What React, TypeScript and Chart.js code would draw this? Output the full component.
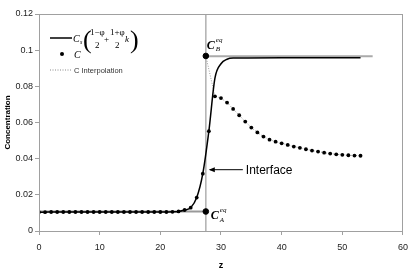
import React, { useEffect, useRef } from "react";
import { Chart, registerables } from "chart.js";
Chart.register(...registerables);

// ---- data ----
const cZ = [
  0, 1, 2, 3, 4, 5, 6, 7, 8, 9, 10, 11, 12, 13, 14, 15, 16, 17, 18, 19, 20, 21, 22, 23, 24, 25, 26, 27, 28,
  29, 30, 31, 32, 33, 34, 35, 36, 37, 38, 39, 40, 41, 42, 43, 44, 45, 46, 47, 48, 49, 50, 51, 52, 53,
];
const cValues = [
  0.0104, 0.0104, 0.0105, 0.0105, 0.0105, 0.0105, 0.0105, 0.0105, 0.0105, 0.0105, 0.0105, 0.0105, 0.0105,
  0.0105, 0.0105, 0.0105, 0.0105, 0.0105, 0.0105, 0.0105, 0.0105, 0.0105, 0.0106, 0.0108, 0.0116, 0.0129,
  0.0185, 0.0317, 0.0552,
  0.0745, 0.0735, 0.071, 0.0675, 0.064, 0.0605, 0.0572, 0.0545, 0.0522, 0.0505, 0.0494, 0.0485, 0.0476,
  0.0467, 0.046, 0.0452, 0.0445, 0.0439, 0.0433, 0.0428, 0.0424, 0.0421, 0.0419, 0.0417, 0.0416,
];
const solidZ = [
  0, 1, 2, 3, 4, 5, 6, 7, 8, 9, 10, 11, 12, 13, 14, 15, 16, 17, 18, 19, 20, 21, 22, 23, 24, 25, 26, 27, 28,
  29, 30, 31, 32, 40, 53,
];
const solidValues = [
  0.0104, 0.0104, 0.0105, 0.0105, 0.0105, 0.0105, 0.0105, 0.0105, 0.0105, 0.0105, 0.0105, 0.0105, 0.0105,
  0.0105, 0.0105, 0.0105, 0.0105, 0.0105, 0.0105, 0.0105, 0.0105, 0.0105, 0.0106, 0.0108, 0.0116, 0.0129,
  0.0185, 0.0317, 0.0552,
  0.0845, 0.0925, 0.095, 0.0956, 0.0958, 0.0958,
];
const interpZ = [27.5, 29, 30, 31, 32, 33, 34, 35, 36, 37, 38, 39, 40, 41, 42, 43, 44, 45, 46, 47, 48, 49, 50, 51, 52, 53];
const interpValues = [
  0.0968, 0.0745, 0.0735, 0.071, 0.0675, 0.064, 0.0605, 0.0572, 0.0545, 0.0522, 0.0505, 0.0494, 0.0485, 0.0476,
  0.0467, 0.046, 0.0452, 0.0445, 0.0439, 0.0433, 0.0428, 0.0424, 0.0421, 0.0419, 0.0417, 0.0416,
];
const interfaceZ = 27.5;
const cAeq = 0.0108;
const cBeq = 0.0966;
const cBeqDot = 0.0968;
const cBeqLineEnd = 55;
const xTicks = [0, 10, 20, 30, 40, 50, 60];
const yTicks = [0, 0.02, 0.04, 0.06, 0.08, 0.1, 0.12];

const pts = (xs: number[], ys: number[]) => xs.map((x, i) => ({ x, y: ys[i] }));

const SANS = '"Liberation Sans", Arial, sans-serif';
const SERIF = '"Liberation Serif", "Times New Roman", serif';

const overlay = {
  id: "overlay",
  afterDraw(chart: any) {
    const ctx = chart.ctx as CanvasRenderingContext2D;
    const ca = chart.chartArea;
    const xs = chart.scales.x;
    const ys = chart.scales.y;
    ctx.save();
    // frame
    ctx.strokeStyle = "#a0a0a0";
    ctx.lineWidth = 1;
    ctx.strokeRect(Math.round(ca.left) + 0.5, Math.round(ca.top) + 0.5, Math.round(ca.width) - 1, Math.round(ca.height));

    ctx.fillStyle = "#000";
    ctx.textAlign = "left";
    ctx.textBaseline = "alphabetic";
    const ix = xs.getPixelForValue(interfaceZ);

    // C_B^eq label
    const by = ys.getPixelForValue(cBeq);
    ctx.font = `italic bold 12px ${SERIF}`;
    ctx.fillText("C", ix + 1, by - 7);
    ctx.font = `italic 7px ${SERIF}`;
    ctx.fillText("eq", ix + 10, by - 14);
    ctx.fillText("B", ix + 10, by - 5);

    // C_A^eq label
    const ay = ys.getPixelForValue(cAeq);
    ctx.font = `italic bold 12px ${SERIF}`;
    ctx.fillText("C", ix + 5, ay + 8);
    ctx.font = `italic 7px ${SERIF}`;
    ctx.fillText("eq", ix + 14, ay + 1);
    ctx.fillText("A", ix + 14, ay + 11);

    // Interface arrow + label
    const arrowY = ys.getPixelForValue(0.0339);
    ctx.strokeStyle = "#000";
    ctx.lineWidth = 1;
    ctx.beginPath();
    ctx.moveTo(ix + 4, arrowY);
    ctx.lineTo(ix + 37, arrowY);
    ctx.stroke();
    ctx.beginPath();
    ctx.moveTo(ix + 3, arrowY);
    ctx.lineTo(ix + 9, arrowY - 2.5);
    ctx.lineTo(ix + 9, arrowY + 2.5);
    ctx.closePath();
    ctx.fill();
    ctx.font = `12px ${SANS}`;
    ctx.textBaseline = "middle";
    ctx.fillText("Interface", ix + 40, arrowY + 1);
    ctx.textBaseline = "alphabetic";

    // legend
    const lx = ca.left + 11;
    // row 1: solid line + formula
    ctx.strokeStyle = "#000";
    ctx.lineWidth = 1.5;
    ctx.beginPath();
    ctx.moveTo(lx, 38);
    ctx.lineTo(lx + 22, 38);
    ctx.stroke();
    ctx.font = `italic 10px ${SERIF}`;
    ctx.fillText("C", lx + 23, 42);
    ctx.font = `italic 6px ${SERIF}`;
    ctx.fillText("s", lx + 30, 44);
    ctx.font = `26px ${SERIF}`;
    ctx.fillText("(", lx + 33, 48);
    ctx.font = `9px ${SERIF}`;
    ctx.fillText("1\u2212\u03c6", lx + 40, 35);
    ctx.fillText("2", lx + 45, 48);
    ctx.fillText("+", lx + 54, 42);
    ctx.fillText("1+\u03c6", lx + 60, 35);
    ctx.fillText("2", lx + 65, 48);
    ctx.font = `italic 9px ${SERIF}`;
    ctx.fillText("k", lx + 75, 42);
    ctx.font = `26px ${SERIF}`;
    ctx.fillText(")", lx + 80, 48);
    // row 2: dot + C
    ctx.beginPath();
    ctx.arc(lx + 12, 54, 2, 0, Math.PI * 2);
    ctx.fill();
    ctx.font = `italic 10px ${SERIF}`;
    ctx.fillText("C", lx + 24, 58);
    // row 3: dotted + C Interpolation
    ctx.strokeStyle = "#888";
    ctx.lineWidth = 1;
    ctx.setLineDash([1, 1.5]);
    ctx.beginPath();
    ctx.moveTo(lx, 70);
    ctx.lineTo(lx + 22, 70);
    ctx.stroke();
    ctx.setLineDash([]);
    ctx.fillStyle = "#333";
    ctx.font = `7.5px ${SANS}`;
    ctx.textBaseline = "middle";
    ctx.fillText("C Interpolation", lx + 24, 70.5);
    ctx.restore();
  },
};

export default function App() {
  const ref = useRef<HTMLCanvasElement | null>(null);
  useEffect(() => {
    document.body.style.margin = "0";
    const canvas = ref.current!;
    const chart = new Chart(canvas, {
      type: "scatter",
      data: {
        datasets: [
          {
            label: "C",
            data: pts(cZ, cValues),
            showLine: false,
            pointRadius: 1.9,
            pointBackgroundColor: "#000",
            pointBorderColor: "#000",
            pointBorderWidth: 0,
            order: 0,
          },
          {
            label: "Ceq",
            data: pts([interfaceZ, interfaceZ], [cAeq, cBeqDot]),
            showLine: false,
            pointRadius: 2.8,
            pointBackgroundColor: "#000",
            pointBorderColor: "#000",
            order: 0,
          },
          {
            label: "Cs",
            data: pts(solidZ, solidValues),
            showLine: true,
            borderColor: "#000",
            borderWidth: 1.5,
            pointRadius: 0,
            cubicInterpolationMode: "monotone",
            order: 1,
          },
          {
            label: "C Interpolation",
            data: pts(interpZ, interpValues),
            showLine: true,
            borderColor: "#999",
            borderWidth: 1,
            borderDash: [1, 1.5],
            pointRadius: 0,
            order: 2,
          },
          {
            label: "CAeq line",
            data: pts([0, interfaceZ], [cAeq, cAeq]),
            showLine: true,
            borderColor: "#999",
            borderWidth: 2,
            pointRadius: 0,
            order: 3,
          },
          {
            label: "CBeq line",
            data: pts([interfaceZ, cBeqLineEnd], [cBeq, cBeq]),
            showLine: true,
            borderColor: "#aaa",
            borderWidth: 2,
            pointRadius: 0,
            order: 3,
          },
          {
            label: "interface",
            data: pts([interfaceZ, interfaceZ], [0, 0.12]),
            showLine: true,
            borderColor: "#b0b0b0",
            borderWidth: 1.5,
            pointRadius: 0,
            order: 4,
          },
        ],
      },
      options: {
        animation: false,
        responsive: false,
        devicePixelRatio: 1,
        layout: { padding: { top: 14, right: 7, left: 0, bottom: 0 } },
        plugins: { legend: { display: false }, tooltip: { enabled: false } },
        scales: {
          x: {
            type: "linear",
            min: xTicks[0],
            max: xTicks[xTicks.length - 1],
            afterBuildTicks: (s: any) => {
              s.ticks = xTicks.map((v) => ({ value: v }));
            },
            afterFit: (s: any) => {
              s.height = 46;
            },
            ticks: { font: { family: SANS, size: 9 }, color: "#222", padding: 7, maxRotation: 0 },
            grid: { drawOnChartArea: false, drawTicks: true, tickLength: 4, color: "#a0a0a0" },
            border: { color: "#a0a0a0" },
            title: { display: true, text: "z", font: { family: SANS, size: 9, weight: "bold" }, color: "#000", padding: { top: 0, bottom: 6 } },
          },
          y: {
            type: "linear",
            min: yTicks[0],
            max: yTicks[yTicks.length - 1],
            afterBuildTicks: (s: any) => {
              s.ticks = yTicks.map((v) => ({ value: v }));
            },
            afterFit: (s: any) => {
              s.width = 39;
            },
            ticks: {
              font: { family: SANS, size: 9 },
              color: "#222",
              padding: 2,
              callback: (v: any) => String(Number(Number(v).toFixed(2))),
            },
            grid: { drawOnChartArea: false, drawTicks: true, tickLength: 4, color: "#a0a0a0" },
            border: { color: "#a0a0a0" },
            title: { display: true, text: "Concentration", font: { family: SANS, size: 8, weight: "bold" }, color: "#000", padding: { top: 3, bottom: 0 } },
          },
        },
      },
      plugins: [overlay],
    });
    return () => chart.destroy();
  }, []);
  return (
    <div style={{ width: 415, height: 277, background: "#fff" }}>
      <canvas ref={ref} width={415} height={277} style={{ display: "block" }} />
    </div>
  );
}
